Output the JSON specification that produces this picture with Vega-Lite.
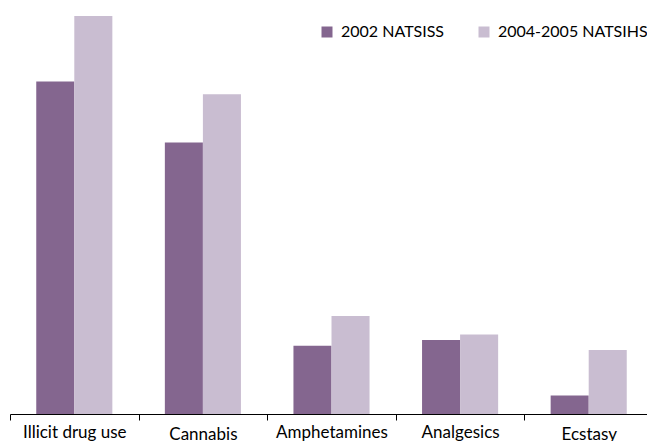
{
  "$schema": "https://vega.github.io/schema/vega-lite/v6.json",
  "width": 643,
  "height": 398,
  "autosize": {"type": "none"},
  "padding": {"left": 10, "top": 16, "right": 0, "bottom": 27},
  "background": "white",
  "data": {
    "values": [
      {"category": "Illicit drug use", "survey": "2002 NATSISS", "pct": 23.4},
      {"category": "Illicit drug use", "survey": "2004-2005 NATSIHS", "pct": 28.0},
      {"category": "Cannabis", "survey": "2002 NATSISS", "pct": 19.1},
      {"category": "Cannabis", "survey": "2004-2005 NATSIHS", "pct": 22.5},
      {"category": "Amphetamines", "survey": "2002 NATSISS", "pct": 4.8},
      {"category": "Amphetamines", "survey": "2004-2005 NATSIHS", "pct": 6.9},
      {"category": "Analgesics", "survey": "2002 NATSISS", "pct": 5.2},
      {"category": "Analgesics", "survey": "2004-2005 NATSIHS", "pct": 5.6},
      {"category": "Ecstasy", "survey": "2002 NATSISS", "pct": 1.3},
      {"category": "Ecstasy", "survey": "2004-2005 NATSIHS", "pct": 4.5}
    ]
  },
  "mark": {"type": "bar"},
  "encoding": {
    "x": {
      "field": "category",
      "type": "nominal",
      "sort": null,
      "scale": {"paddingInner": 0, "paddingOuter": 0},
      "axis": {
        "title": null,
        "labelAngle": 0,
        "tickBand": "extent",
        "tickSize": 6,
        "domainColor": "black",
        "tickColor": "black",
        "labelColor": "black",
        "labelFont": "Lato",
        "labelFontSize": 17,
        "labelPadding": {
          "condition": {"test": "datum.value == 'Cannabis' || datum.value == 'Ecstasy'", "value": 6},
          "value": 4
        }
      }
    },
    "xOffset": {
      "field": "survey",
      "type": "nominal",
      "scale": {"paddingInner": 0, "paddingOuter": 0.69}
    },
    "y": {
      "field": "pct",
      "type": "quantitative",
      "scale": {"domain": [0, 28], "nice": false},
      "axis": null
    },
    "color": {
      "field": "survey",
      "type": "nominal",
      "scale": {
        "domain": ["2002 NATSISS", "2004-2005 NATSIHS"],
        "range": ["#84668f", "#c9bdd1"]
      },
      "legend": {
        "title": null,
        "orient": "none",
        "direction": "horizontal",
        "legendX": 309,
        "legendY": 8,
        "padding": 0,
        "symbolType": "square",
        "symbolSize": 121,
        "symbolStrokeWidth": 0,
        "labelOffset": 6,
        "columnPadding": 31,
        "labelFont": "Lato",
        "labelFontSize": 16,
        "labelColor": "black",
        "labelLimit": 0
      }
    }
  },
  "config": {"view": {"stroke": null}}
}
